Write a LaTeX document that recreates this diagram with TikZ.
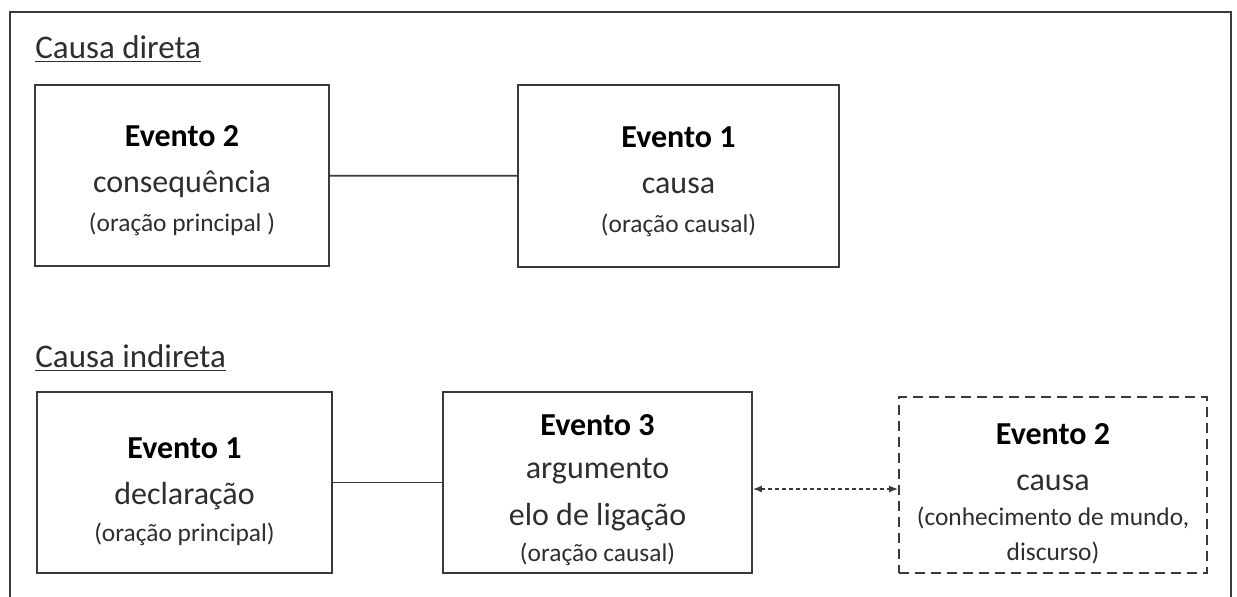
\documentclass[tikz,border=0pt]{standalone}
\usepackage{fontspec}
\setmainfont{Carlito}
\usetikzlibrary{arrows.meta}
\definecolor{linha}{HTML}{3A3A3A}
\definecolor{texto}{HTML}{2E2E2E}
\newcommand{\evtit}[1]{\fontsize{16}{23}\selectfont\bfseries\color{black}\rule{0pt}{#1}}
\newcommand{\evtxt}{\fontsize{16}{23}\selectfont}
\newcommand{\evpar}{\fontsize{12.7}{23}\selectfont}
\tikzstyle{evento}=[rectangle,draw=linha,line width=0.9pt,align=center,
text=texto,inner sep=0pt,minimum height=90.5pt,font=\fontsize{16}{23}\selectfont]
\tikzstyle{hipot}=[evento,dash pattern=on 5pt off 3pt]
\tikzstyle{titulo}=[anchor=base west,inner sep=0pt,text=texto,
font=\fontsize{16.5}{20}\selectfont]
\tikzstyle{liga}=[draw=linha,line width=0.9pt]
\tikzstyle{liga2}=[draw=linha,line width=0.7pt,dash pattern=on 2pt off 1.5pt,
{Latex[length=4.5pt,width=3.5pt]}-{Latex[length=4.5pt,width=3.5pt]}]

\begin{document}
\begin{tikzpicture}[x=0.5pt,y=-0.5pt]
        \useasboundingbox (0,0) rectangle (1237,596);
        \draw [linha,line width=1.2pt] (10,640) -- (10,12) -- (1231,12) -- (1231,640);
        % causa direta
        \node [style=titulo] (td) at (35,58) {\underline{Causa direta}};
        \node [style=evento,minimum width=147pt] (d2) at (182,175.5)
            {{\evtit{16pt}Evento 2}\\ \evtxt consequência\\[-3.5pt] \evpar (oração principal )};
        \node [style=evento,minimum width=160.5pt,minimum height=91pt] (d1) at (678.5,176)
            {{\evtit{16pt}Evento 1}\\ \evtxt causa\\[-3.5pt] \evpar (oração causal)};
        \draw [style=liga] (d2) to (d1);
        % causa indireta
        \node [style=titulo] (ti) at (35,367) {\underline{Causa indireta}};
        \node [style=evento,minimum width=147.5pt] (i1) at (184.5,482.5)
            {{\evtit{20pt}Evento 1}\\ \evtxt declaração\\[-4.5pt] \evpar (oração principal)};
        \node [style=evento,minimum width=154.5pt] (i3) at (597.5,482.5)
            {{\evtit{18pt}Evento 3}\\[-1.5pt] \evtxt argumento\\[0.5pt] \evtxt elo de ligação\\[-5pt] \evpar (oração causal)};
        \node [style=hipot,minimum width=154pt,minimum height=88pt] (i2) at (1053,485)
            {{\evtit{19pt}Evento 2}\\ \evtxt causa\\[-5.5pt] \evpar (conhecimento de mundo,\\[-5.5pt] \evpar discurso)};
        \draw [style=liga] (i1) to (i3);
        \draw [style=liga2] ([yshift=-3.25pt]i3.east) to ([yshift=-3.25pt]i3.east -| i2.west);
    \end{tikzpicture}
\end{document}
